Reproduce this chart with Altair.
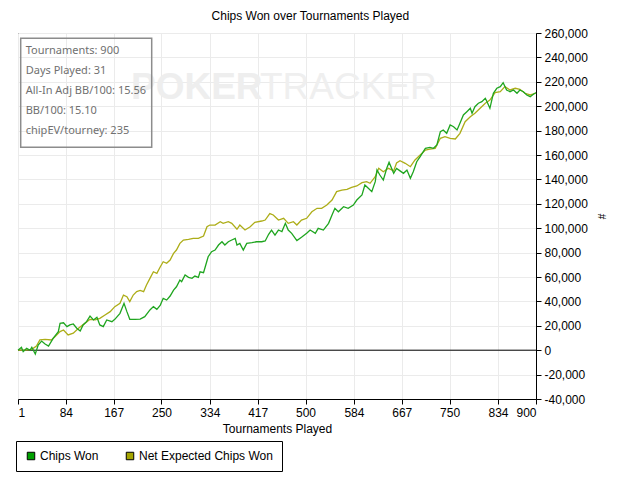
import altair as alt
import pandas as pd

# ---- data ----
series_names = ["Chips Won", "Net Expected Chips Won"]
series_colors = ["#1fa51f", "#adad18"]
legend_colors = ["#00a000", "#a5a500"]

chips_t = [1, 7, 10, 16, 22, 25, 31, 36, 42, 48, 54, 62, 71, 74, 80, 86, 91, 97, 103, 109,
           114, 120, 126, 132, 138, 143, 149, 155, 164, 169, 178, 185, 190, 195, 204, 213, 221,
           230, 236, 242, 248, 253, 259, 265, 271, 276, 282, 285, 291, 297, 303, 308, 314, 317,
           323, 326, 331, 337, 343, 349, 355, 360, 366, 372, 378, 381, 386, 392, 398, 407, 415,
           424, 430, 436, 441, 447, 453, 459, 465, 470, 476, 485, 493, 502, 508, 517, 522, 531,
           540, 546, 551, 557, 566, 574, 583, 589, 598, 603, 609, 615, 621, 624, 629, 635, 641,
           645, 653, 658, 664, 670, 676, 682, 687, 693, 699, 708, 716, 722, 728, 734, 739, 745,
           751, 757, 763, 768, 774, 780, 786, 789, 794, 800, 806, 812, 815, 820, 826, 832, 838,
           843, 849, 855, 861, 867, 872, 878, 884, 890, 896, 900]
chips_k = [0, 2.4, -1.2, 1.5, 0, 2.4, -3.1, 4.3, 7.5, 5.1, 3.4, 9.7, 15.2, 22, 22.5, 19.3, 20.7,
           21.5, 18, 15.7, 20.7, 23.4, 28, 24.8, 27, 20.7, 19.3, 24.8, 23.4, 25.3, 30.2, 38.4,
           31.6, 25.3, 25.3, 25.5, 27.5, 33, 35.7, 33.5, 37, 42.5, 41.1, 44.4, 49.3, 52, 57.5,
           56.2, 61.6, 59.7, 58.9, 60.8, 59.7, 64.3, 63.5, 68.4, 76.6, 80.7, 82.1, 86.2, 88.9,
           86.2, 88.9, 90.3, 91.7, 86.2, 87.6, 82.1, 87.6, 88.1, 88.9, 88.9, 89.5, 95, 98.5,
           94.4, 98.5, 97.2, 104, 98.5, 95.8, 89.8, 92.5, 95.8, 98.5, 95.8, 99.9, 98.5, 104,
           110.8, 116.3, 113.5, 117.6, 116.3, 119, 123.1, 127.2, 135.4, 132.7, 130, 138.1, 147.7,
           143.6, 139.5, 149.1, 154, 145, 149, 147, 145, 147.7, 140.9, 146.3, 154.5, 158.6,
           165.5, 166.3, 165.5, 168.2, 179.1, 180.5, 177.8, 184.6, 183.2, 180.5, 186, 192.8,
           195.5, 198.3, 194.2, 199.6, 202.4, 203.7, 206.5, 203.7, 198.3, 210.6, 214.7, 216,
           219.3, 213.3, 211.9, 213.3, 210.6, 213.3, 211.9, 209.2, 207.8, 210, 211]

ev_t = [1, 13, 25, 33, 39, 48, 59, 65, 74, 80, 88, 97, 106, 117, 126, 135, 143, 152, 161, 169,
        178, 184, 190, 195, 201, 207, 213, 219, 224, 230, 236, 242, 248, 253, 259, 265, 271, 276,
        282, 288, 297, 305, 314, 323, 329, 334, 343, 352, 357, 366, 372, 381, 386, 395, 404, 412,
        424, 430, 438, 444, 453, 462, 470, 479, 485, 493, 502, 511, 520, 528, 537, 546, 554, 563,
        572, 580, 589, 598, 606, 612, 621, 627, 635, 644, 653, 658, 664, 673, 682, 690, 699, 708,
        716, 725, 734, 742, 751, 760, 768, 777, 786, 794, 803, 812, 820, 829, 838, 846, 855, 864,
        872, 881, 890, 896, 900]
ev_k = [0, 0, 0.7, 3.4, 8.4, 8.9, 8.4, 11.1, 15.2, 16.6, 12.5, 13.9, 18, 22, 25.3, 24.8, 26.1,
        28.9, 31.6, 35.7, 38.4, 45.2, 43.9, 39.8, 45.2, 48, 49, 48, 53.4, 58.9, 64.3, 63, 68.4,
        72.5, 71.2, 73.9, 79.4, 82.1, 87.6, 90.3, 90.9, 91.7, 91.7, 93.6, 101.2, 102.6, 102.6,
        105.3, 104, 105.3, 104, 99.1, 102.6, 98.5, 101.2, 104.8, 105.9, 106.7, 112, 110.8, 106.7,
        108.1, 104, 105.3, 102.6, 106.7, 108.1, 113.5, 116.3, 116.3, 119, 123.1, 130, 131.3,
        131.9, 133.5, 134.6, 137.3, 138.1, 136.8, 142.2, 149.1, 146.3, 149.1, 147, 153.5, 155.3,
        153.2, 150.4, 155.9, 160, 164.1, 164.9, 165.5, 173.7, 175, 173.7, 173.1, 177.8, 187.3,
        191.4, 194.2, 198.3, 202.4, 205, 211.1, 211.9, 216, 213.3, 214.7, 213.9, 210.6, 209.2,
        210, 211]

x_ticks = [1, 84, 167, 250, 334, 417, 500, 584, 667, 750, 834, 900]
y_ticks = [-40000, -20000, 0, 20000, 40000, 60000, 80000, 100000, 120000, 140000, 160000,
           180000, 200000, 220000, 240000, 260000]
stats_lines = ["Tournaments: 900", "Days Played: 31", "All-In Adj BB/100: 15.56",
               "BB/100: 15.10", "chipEV/tourney: 235"]
watermark_words = ["POKER", "TRACKER"]

# ---- tables ----
rows = [{"t": t, "chips": k * 1000, "series": series_names[0]} for t, k in zip(chips_t, chips_k)]
rows += [{"t": t, "chips": k * 1000, "series": series_names[1]} for t, k in zip(ev_t, ev_k)]
df = pd.DataFrame(rows)

FONT = "Liberation Sans"
W, H = 518, 366

x_scale = alt.Scale(domain=[1, 900], nice=False, zero=False)
y_scale = alt.Scale(domain=[-40000, 260000], nice=False, zero=False)

x_axis = alt.Axis(values=x_ticks, title="Tournaments Played", labelOverlap=False,
                  labelPadding=3, titlePadding=5, grid=True)
y_axis = alt.Axis(orient="right", values=y_ticks, title="#", titleAngle=90,
                  titleFontSize=10, titlePadding=8, labelPadding=3, grid=True,
                  labelOverlap=False, labelBound=False,
                  labelExpr="replace(format(datum.value, ','), '\u2212', '-')")


def xe():
    return alt.X("t:Q", scale=x_scale, axis=x_axis)


def ye():
    return alt.Y("chips:Q", scale=y_scale, axis=y_axis)


base = alt.Chart(df)

watermark = alt.Chart(pd.DataFrame({"w": [watermark_words[0]]})).mark_text(
    font=FONT, fontSize=37, fontWeight="bold", color="#eeeeee",
    align="left", baseline="alphabetic"
).encode(text="w:N", x=alt.value(113), y=alt.value(66))
watermark2 = alt.Chart(pd.DataFrame({"w": [watermark_words[1]]})).mark_text(
    font=FONT, fontSize=37, fontWeight="normal", color="#efefef",
    align="left", baseline="alphabetic"
).encode(text="w:N", x=alt.value(242), y=alt.value(66))

zero_rule = alt.Chart(pd.DataFrame({"chips": [0]})).mark_rule(
    color="black", strokeWidth=1
).encode(y=ye())

stroke_scale = alt.Scale(domain=series_names, range=series_colors)
fill_scale = alt.Scale(domain=series_names, range=legend_colors)

ev_line = base.transform_filter(alt.datum.series == series_names[1]).mark_line(
    strokeWidth=1.3).encode(x=xe(), y=ye(),
                            stroke=alt.Stroke("series:N", scale=stroke_scale, legend=None))
chips_line = base.transform_filter(alt.datum.series == series_names[0]).mark_line(
    strokeWidth=1.3).encode(x=xe(), y=ye(),
                            stroke=alt.Stroke("series:N", scale=stroke_scale, legend=None))

legend_layer = base.mark_square(filled=True, size=0, opacity=1).encode(
    x=xe(), y=ye(),
    fill=alt.Fill("series:N", scale=fill_scale,
                  legend=alt.Legend(title=None, orient="none", legendX=-2, legendY=408,
                                    direction="horizontal", strokeColor="black",
                                    fillColor="white", padding=9, symbolType="square",
                                    symbolSize=56, symbolStrokeColor="black",
                                    symbolStrokeWidth=1, symbolOpacity=1,
                                    labelFont=FONT, labelFontSize=12,
                                    labelColor="black", labelOffset=3, columnPadding=25,
                                    cornerRadius=0))
)

stats_box = alt.Chart(pd.DataFrame({"k": [0]})).mark_rect(
    fill="white", fillOpacity=0, stroke="#8c8c8c", strokeWidth=1.5
).encode(x=alt.value(2.7), x2=alt.value(133.7), y=alt.value(5.3), y2=alt.value(114.3))

stats_text = alt.Chart(pd.DataFrame({"txt": ["\n".join(stats_lines)]})).mark_text(
    font="Noto Sans", fontSize=11, color="#707070", align="left", baseline="middle",
    lineBreak="\n", lineHeight=20.2
).encode(text="txt:N", x=alt.value(7.7), y=alt.value(17.7))

chart = alt.layer(
    watermark, watermark2, zero_rule, ev_line, chips_line, legend_layer, stats_box, stats_text
).resolve_scale(
    fill="independent", stroke="independent"
).properties(
    width=W, height=H,
    title=alt.Title("Chips Won over Tournaments Played", font=FONT, fontSize=12,
                    fontWeight="normal", color="black", anchor="middle", frame="bounds",
                    offset=4),
    padding={"left": 7, "top": 2, "right": 5, "bottom": 5},
).configure_view(
    stroke="black", strokeWidth=1
).configure_axis(
    gridColor="#ebebeb", gridWidth=1, labelFont=FONT, labelFontSize=12, labelColor="black",
    titleFont=FONT, titleFontSize=12, titleFontWeight="normal", titleColor="black",
    tickColor="black", domainColor="black", tickSize=5
)

chart.save("out.html", embed_options={"renderer": "svg", "actions": False})
